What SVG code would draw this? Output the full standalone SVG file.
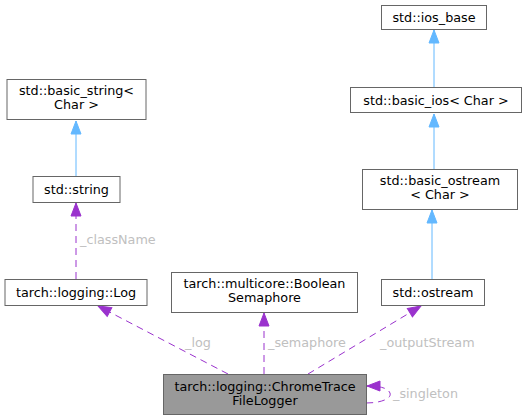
<svg xmlns="http://www.w3.org/2000/svg" width="526" height="420" viewBox="0 0 526 420">
<style>
.n rect{fill:#ffffff;stroke:#666666;stroke-width:1}
.n text,.lbl{font-family:"DejaVu Sans",sans-serif;font-size:12.75px}
.n text{fill:#000000;text-anchor:middle}
.lbl{fill:#c0c0c0}
.inh{stroke:#63b8ff;stroke-width:1;fill:none}
.use{stroke:#9a32cd;stroke-width:1;fill:none;stroke-dasharray:7,5}
</style>
<defs>
<marker id="ab" markerUnits="userSpaceOnUse" markerWidth="14" markerHeight="12" refX="13" refY="5" orient="auto" overflow="visible">
<path d="M0,0 L13,5 L0,10 Z" fill="#63b8ff" stroke="#63b8ff" stroke-width="1"/>
</marker>
<marker id="ap" markerUnits="userSpaceOnUse" markerWidth="14" markerHeight="12" refX="13" refY="5" orient="auto" overflow="visible">
<path d="M0,0 L13,5 L0,10 Z" fill="#9a32cd" stroke="#9a32cd" stroke-width="1" stroke-dasharray="none"/>
</marker>
</defs>
<g id="edges">
<path class="inh" d="M76,176 L76,121" marker-end="url(#ab)"/>
<path class="use" d="M76,279 L76,203" marker-end="url(#ap)"/>
<path class="inh" d="M434,87 L434,30" marker-end="url(#ab)"/>
<path class="inh" d="M434,169 L434,114" marker-end="url(#ab)"/>
<path class="inh" d="M432,279 L432,210" marker-end="url(#ab)"/>
<path class="use" d="M228,374 L98,306" marker-end="url(#ap)"/>
<path class="use" d="M264,374 L264,313" marker-end="url(#ap)"/>
<path class="use" d="M308,374 L421,306" marker-end="url(#ap)"/>
<path class="use" d="M366,403 C380,403 392,399 390,393 C388,388 380,386 367,386" marker-end="url(#ap)"/>
</g>
<g class="lbls">
<text class="lbl" x="80" y="244">_className</text>
<text class="lbl" x="185" y="347">_log</text>
<text class="lbl" x="268" y="347">_semaphore</text>
<text class="lbl" x="380" y="347">_outputStream</text>
<text class="lbl" x="393" y="398">_singleton</text>
</g>
<g id="basic_string" class="n">
<rect x="7" y="79.5" width="139" height="40"/>
<text x="76.5" y="95">std::basic_string&lt;</text>
<text x="76.5" y="109">Char &gt;</text>
</g>
<g id="string" class="n">
<rect x="33" y="176.5" width="87" height="26"/>
<text x="76.5" y="194">std::string</text>
</g>
<g id="log" class="n">
<rect x="5" y="279.5" width="142" height="26"/>
<text x="76" y="297">tarch::logging::Log</text>
</g>
<g id="semaphore" class="n">
<rect x="171.5" y="272.5" width="186" height="40"/>
<text x="264.5" y="288">tarch::multicore::Boolean</text>
<text x="264.5" y="302">Semaphore</text>
</g>
<g id="ostream" class="n">
<rect x="381.5" y="279.5" width="103" height="26"/>
<text x="433" y="297">std::ostream</text>
</g>
<g id="ios_base" class="n">
<rect x="381.5" y="5.5" width="105" height="24"/>
<text x="434" y="22">std::ios_base</text>
</g>
<g id="basic_ios" class="n">
<rect x="350.5" y="87.5" width="171" height="25"/>
<text x="436" y="104.5">std::basic_ios&lt; Char &gt;</text>
</g>
<g id="basic_ostream" class="n">
<rect x="362.5" y="169.5" width="155" height="40"/>
<text x="440" y="185">std::basic_ostream</text>
<text x="440" y="199">&lt; Char &gt;</text>
</g>
<g id="chrometrace" class="n">
<rect x="163.5" y="374.5" width="203" height="40" style="fill:#999999"/>
<text x="265" y="391">tarch::logging::ChromeTrace</text>
<text x="265" y="405">FileLogger</text>
</g>
</svg>
